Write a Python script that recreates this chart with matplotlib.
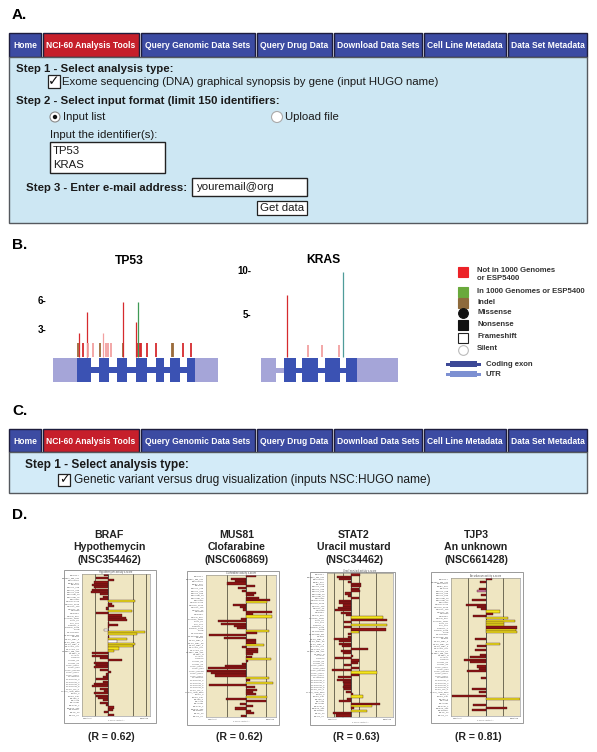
import matplotlib
matplotlib.use('Agg')
import matplotlib.pyplot as plt
from matplotlib.patches import Rectangle, Circle
import numpy as np

W, H = 597, 752
plt.rcParams['font.family'] = ['Liberation Sans', 'DejaVu Sans']
CONDENSED = ['DejaVu Sans Condensed', 'Liberation Sans']

# ---- navigation bar ----
tab_labels = ['Home', 'NCI-60 Analysis Tools', 'Query Genomic Data Sets', 'Query Drug Data',
              'Download Data Sets', 'Cell Line Metadata', 'Data Set Metadata']
tab_spans = [(9, 41), (43, 139), (141, 255), (257, 332), (334, 422), (424, 506), (508, 587)]

# ---- panel B: mutations (gene coordinate, count, class) ----
tp53_pos = [24.7, 26.3, 29.7, 34.3, 35.3, 40.3, 47.3, 50.3, 52.7, 55.3, 58.0, 69.7,
            70.3, 82.7, 84.0, 85.3, 87.0, 88.0, 93.7, 103.0, 118.7, 119.7, 130.3, 137.7]
tp53_count = [1.5, 2.5, 1.5, 4.8, 1.5, 1.5, 1.5, 2.6, 1.5, 1.5, 1.5, 1.5,
              5.8, 3.7, 1.5, 5.8, 1.5, 1.5, 1.5, 1.5, 1.5, 1.5, 1.5, 1.5]
tp53_class = ['I', 'N', 'N', 'N', 'S', 'S', 'I', 'S', 'S', 'S', 'S', 'I',
              'N', 'N', 'N', 'K', 'N', 'N', 'N', 'N', 'I', 'I', 'N', 'N']
tp53_utr = [(0, 24), (142, 165)]
tp53_exons = [(24, 38), (46, 56), (64, 74), (83, 94), (103, 111), (117, 127), (134, 142)]

kras_pos = [26.3, 47.3, 60.7, 78.0, 82.3]
kras_count = [7.1, 1.4, 1.4, 1.4, 9.8]
kras_class = ['N', 'S', 'S', 'S', 'T']
kras_utr = [(0, 15), (96, 137)]
kras_utr_line = [(15, 23)]
kras_exons = [(23, 35), (41, 57), (64, 79), (85, 96)]

mut_colors = {'N': '#d62a2e', 'S': '#f2a0a0', 'K': '#3f9a55', 'I': '#9b6b3a', 'T': '#4f9c9a'}

legend_labels = ['Not in 1000 Genomes\nor ESP5400', 'In 1000 Genomes or ESP5400', 'Indel',
                 'Missense', 'Nonsense', 'Frameshift', 'Silent']

# ---- panel D: pattern comparison bars (z-score per cell line) ----
cell_lines = ['BR:MCF7', 'BR:MDA_MB_231', 'BR:HS578T', 'BR:BT_549', 'BR:T47D',
              'CNS:SF_268', 'CNS:SF_295', 'CNS:SF_539', 'CNS:SNB_19', 'CNS:SNB_75', 'CNS:U251',
              'CO:COLO205', 'CO:HCC_2998', 'CO:HCT_116', 'CO:HCT_15', 'CO:HT29', 'CO:KM12', 'CO:SW_620',
              'LE:CCRF_CEM', 'LE:HL_60', 'LE:K_562', 'LE:MOLT_4', 'LE:RPMI_8226', 'LE:SR',
              'ME:LOXIMVI', 'ME:MALME_3M', 'ME:M14', 'ME:SK_MEL_2', 'ME:SK_MEL_28', 'ME:SK_MEL_5',
              'ME:UACC_257', 'ME:UACC_62', 'ME:MDA_MB_435', 'ME:MDA_N',
              'LC:A549', 'LC:EKVX', 'LC:HOP_62', 'LC:HOP_92', 'LC:NCI_H226', 'LC:NCI_H23',
              'LC:NCI_H322M', 'LC:NCI_H460', 'LC:NCI_H522',
              'OV:IGROV1', 'OV:OVCAR_3', 'OV:OVCAR_4', 'OV:OVCAR_5', 'OV:OVCAR_8', 'OV:SK_OV_3',
              'OV:NCI_ADR_RES', 'PR:PC_3', 'PR:DU_145',
              'RE:786_0', 'RE:A498', 'RE:ACHN', 'RE:CAKI_1', 'RE:RXF_393', 'RE:SN12C', 'RE:TK_10', 'RE:UO_31']

braf_vals = [-0.25, -0.9, 0.5, -1.1, -1.25, -1.1, -1.25, -1.3, -0.6, -0.4,
             -0.6, 2.1, 0.3, 0.5, -0.1, 1.9, -0.9, 1.1, 1.4, 1.5,
             0.1, 0.8, 0.1, -0.25, 2.9, 2.3, 0.1, 1.5, 0.75, 2.1,
             2.0, 0.9, 0.5, -1.25, -1.25, -0.6, 1.1, -1.1, -0.9, -1.1,
             -0.6, 0.25, -0.1, -0.4, -0.9, -0.4, -1.1, -1.25, -0.6, -0.25,
             -1.1, -0.9, -0.75, -0.4, -0.6, -0.1, 0.5, 0.4, -0.25, 0.5]
braf_cls = ('rrrrrrrrrrr' 'y' 'rrr' 'y' 'rrrrrrr' 'w' 'yy' 'r' 'y' 'w' 'yyyy'
            'rrrrrrrrrrrrrrrrrrrrrrrrrrr')

mus81_vals = [0.5, -0.8, -0.6, -1.0, 0.45, -0.45, -0.2, 0.5, 0.4, 0.65,
              1.2, 1.05, -0.7, -0.35, -0.15, 1.3, 0.35, 1.3, -0.3, -1.45,
              -1.3, -0.65, -0.5, 1.15, 0.55, -1.9, -1.15, 0.5, 0.5, 0.9,
              -0.2, 0.6, 0.6, 0.35, 0.3, 1.25, 0.1, -0.2, -1.1, -1.95,
              -2.0, -1.8, -1.6, 1.15, 0.2, 1.35, -1.9, 0.45, 0.55, 0.35,
              0.5, 1.05, -1.05, 1.0, -0.35, 0.35, -0.6, 0.25, 0.4, -0.3]
mus81_cls = ('rrrrrrrrrrr' 'y' 'rrrrr' 'y' 'rrrrr' 'y' 'rrrrr' 'y' 'rrrrr' 'y'
             'rrrrrrr' 'y' 'r' 'y' 'rrrrr' 'y' 'rrrrrrrr')

stat2_vals = [1.1, -1.7, -1.4, -0.4, 1.2, 1.2, 1.0, 1.1, -0.7, -0.3,
              1.0, -1.5, -1.4, -1.0, -1.6, -1.9, -1.2, -0.6, 3.9, 4.4,
              -0.8, 4.4, -0.8, 4.3, 1.0, -0.4, -0.3, -2.0, -1.5, -1.4,
              -1.1, 2.1, -1.2, -1.0, 0.2, -1.9, 1.0, 0.8, -0.8, 1.0,
              -2.3, 3.2, 1.0, -1.6, -1.7, -1.0, -0.8, -1.0, -0.8, -0.6,
              0.2, 1.5, -0.5, -1.5, 3.5, 2.6, 0.4, 1.9, -2.2, -1.8]
stat2_cls = ('rrrrrrrrrrrrrrrrrr' 'y' 'rr' 'y' 'rr' 'y' 'rrrrrrrrrrrrrrrr' 'y'
             'rrrrrrrrr' 'y' 'rrr' 'y' 'r' 'y' 'rr')

tjp3_vals = [0.4, -0.3, 0, 0, -0.4, -0.5, 0, -0.25, 0, -0.8,
             0, -1.15, -0.5, -0.25, 0.85, 0.45, -0.75, 1.3, 1.7, 1.05,
             1.1, 1.8, 1.75, 1.8, 0, 0, -0.6, 0, 0.85, -0.5,
             0, -0.6, 0, -0.3, -0.9, -1.25, -0.9, 0, -0.5, -0.4,
             -1.1, 0, 0, -0.25, 0, 0, 0, 0, -0.8, -0.4,
             0, -1.95, 2.0, 0, 0, -0.75, 1.25, -0.8, 0, 0]
tjp3_cls = ('rrrrr' 'p' 'rrrrrrrr' 'y' 'rr' 'yyyy' 'r' 'yy' 'rrrr' 'y'
            'rrrrrrrrrrrrrrrrrrrrrrr' 'y' 'rrrrrrr')

bar_colors = {'r': '#8e1414', 'y': '#f4e61c', 'w': '#ffffff', 'p': '#d07aa8'}

gene_titles = [('BRAF', 'Hypothemycin', '(NSC354462)'), ('MUS81', 'Clofarabine', '(NSC606869)'),
               ('STAT2', 'Uracil mustard', '(NSC34462)'), ('TJP3', 'An unknown', '(NSC661428)')]
r_values = [0.62, 0.62, 0.63, 0.81]

fig = plt.figure(figsize=(W / 100, H / 100), dpi=100)
bg = fig.add_axes([0, 0, 1, 1])
bg.set_xlim(0, W)
bg.set_ylim(H, 0)
bg.axis('off')
renderer = fig.canvas.get_renderer()


def sub_axes(x0, y0, x1, y1):
    return fig.add_axes([x0 / W, 1 - y1 / H, (x1 - x0) / W, (y1 - y0) / H])


def draw_nav(top, bottom):
    texts = []
    for lab, (x0, x1) in zip(tab_labels, tab_spans):
        col = '#c61f2b' if lab.startswith('NCI') else '#3c4ba2'
        bg.add_patch(Rectangle((x0, top), x1 - x0, bottom - top, fc=col, ec='#1d1d3d', lw=1.0))
        t = bg.text((x0 + x1) / 2, (top + bottom) / 2 + 0.5, lab, color='white', fontsize=8.2,
                    fontweight='bold', ha='center', va='center', family=CONDENSED)
        texts.append((t, x1 - x0 - 5))
    # shrink all tab labels by the same factor so the widest one fits
    scale = min(1.0, min(w / t.get_window_extent(renderer).width for t, w in texts))
    for t, _ in texts:
        t.set_fontsize(8.2 * scale)


def panel_letter(y, s):
    bg.text(12, y, s, fontsize=11, fontweight='bold', va='center', ha='left')


# ================= A =================
panel_letter(15, 'A.')
draw_nav(33, 57)
bg.add_patch(Rectangle((9, 57), 578, 166, fc='#cde7f3', ec='#55595e', lw=1.0))
bold = dict(fontsize=8.2, fontweight='bold', va='center', color='#1a1a1a')
reg = dict(fontsize=8.2, va='center', color='#1a1a1a')
bg.text(16, 69, 'Step 1 - Select analysis type:', **bold)
bg.add_patch(Rectangle((48, 75), 12, 13, fc='white', ec='#222', lw=0.9))
bg.text(54, 81.5, '\u2713', fontsize=10, ha='center', va='center', family=['DejaVu Sans'], color='#111')
bg.text(62, 82, 'Exome sequencing (DNA) graphical synopsis by gene (input HUGO name)', **reg)
bg.text(16, 101.5, 'Step 2 - Select input format (limit 150 identifiers:', **bold)
bg.add_patch(Circle((55, 117), 5, fc='white', ec='#8a8a8a', lw=0.8))
bg.add_patch(Circle((55, 117), 2.2, fc='#111', ec='none'))
bg.text(63, 117, 'Input list', **reg)
bg.add_patch(Circle((277, 117), 5.5, fc='white', ec='#aaaaaa', lw=0.8))
bg.text(285, 117, 'Upload file', **reg)
bg.text(50, 135, 'Input the identifier(s):', **reg)
bg.add_patch(Rectangle((50, 142), 115, 31, fc='white', ec='#222', lw=1.0))
bg.text(53, 151.5, 'TP53', **reg)
bg.text(53, 165, 'KRAS', **reg)
bg.text(26, 188, 'Step 3 - Enter e-mail address:', **bold)
bg.add_patch(Rectangle((192, 178), 115, 18, fc='white', ec='#222', lw=1.0))
bg.text(197, 187, 'youremail@org', **reg)
bg.add_patch(Rectangle((257, 201), 50, 14, fc='white', ec='#222', lw=0.9))
bg.text(282, 208, 'Get data', ha='center', fontsize=8.2, va='center', color='#1a1a1a')

# ================= B =================
panel_letter(245, 'B.')
bg.text(129, 261, 'TP53', fontsize=8.7, fontweight='bold', ha='center', va='center')
bg.text(323, 260, 'KRAS', fontsize=8.7, fontweight='bold', ha='center', va='center')

EXON = '#3b52b3'
UTR = '#a5a5d8'


def gene_panel(ax, pos, count, cls, utrs, utr_lines, exons, ytop, yticks, lo, hi):
    ax.set_facecolor('none')
    mid = (lo + hi) / 2
    for x0, x1 in utrs:
        ax.add_patch(Rectangle((x0, lo), x1 - x0, hi - lo, fc=UTR, ec='none'))
    for x0, x1 in utr_lines:
        ax.add_patch(Rectangle((x0, mid - 0.3), x1 - x0, 0.6, fc=UTR, ec='none'))
    # intron backbone between first and last exon
    ex0, ex1 = exons[0][0], exons[-1][1]
    ax.add_patch(Rectangle((ex0, mid - 0.3), ex1 - ex0, 0.6, fc=EXON, ec='none'))
    for x0, x1 in exons:
        ax.add_patch(Rectangle((x0, lo), x1 - x0, hi - lo, fc=EXON, ec='none'))
    cols = [mut_colors[c] for c in cls]
    widths = [1.3 if h < 2 else 0.9 for h in count]
    ax.vlines(pos, 0, count, colors=cols, linewidth=widths)
    ax.set_ylim(lo - 0.3, ytop)
    ax.set_yticks(yticks)
    ax.set_yticklabels([f'{t}-' for t in yticks], fontsize=7, fontweight='bold')
    ax.tick_params(axis='y', length=0, pad=1)
    ax.set_xticks([])
    for s in ax.spines.values():
        s.set_visible(False)


ax_tp = sub_axes(48, 280, 230, 385)
ax_tp.set_xlim(-5, 177)
gene_panel(ax_tp, tp53_pos, tp53_count, tp53_class, tp53_utr, [], tp53_exons,
           (357 - 280) / 9.5, [3, 6], -2.6, -0.1)

ax_kr = sub_axes(253, 262, 400, 385)
ax_kr.set_xlim(-8, 139)
gene_panel(ax_kr, kras_pos, kras_count, kras_class, kras_utr, kras_utr_line, kras_exons,
           (357 - 262) / 8.7, [5, 10], -2.85, -0.1)

# legend
leg_y = [272, 292, 302.5, 312.5, 324.5, 337.5, 349.5]
leg_style = [dict(marker='s', mfc='#ec2227', mec='#ec2227'),
             dict(marker='s', mfc='#6aa93c', mec='#6aa93c'),
             dict(marker='s', mfc='#8e6a3c', mec='#8e6a3c'),
             dict(marker='o', mfc='#111', mec='#111'),
             dict(marker='s', mfc='#111', mec='#111'),
             dict(marker='s', mfc='white', mec='#222'),
             dict(marker='o', mfc='white', mec='#bbbbbb')]
for y, lab, st in zip(leg_y, legend_labels, leg_style):
    bg.plot([463], [y], markersize=7, mew=0.8, linestyle='none', **st)
    bg.text(477, y - 0.5 if '\n' not in lab else y - 4.5, lab, fontsize=5.6, fontweight='bold',
            color='#333', va='center' if '\n' not in lab else 'top', linespacing=1.2)
bg.add_patch(Rectangle((450, 361), 27, 6, fc='#3c4896', ec='none'))
bg.add_patch(Rectangle((446, 362.5), 35, 3, fc='#3c4896', ec='none'))
bg.add_patch(Rectangle((450, 371), 27, 6, fc='#7d90d2', ec='none'))
bg.add_patch(Rectangle((446, 372.5), 35, 3, fc='#7d90d2', ec='none'))
bg.text(486, 364, 'Coding exon', fontsize=5.6, fontweight='bold', color='#333', va='center')
bg.text(486, 374.5, 'UTR', fontsize=5.6, fontweight='bold', color='#333', va='center')

# ================= C =================
panel_letter(411, 'C.')
draw_nav(429, 452)
bg.add_patch(Rectangle((9, 452), 578, 41, fc='#d3ebf8', ec='#55595e', lw=1.0))
bg.text(25, 465, 'Step 1 - Select analysis type:', fontsize=8.6, fontweight='bold', va='center', color='#1a1a1a')
bg.add_patch(Rectangle((58, 474), 12, 12, fc='white', ec='#222', lw=0.9))
bg.text(64, 480, '\u2713', fontsize=9, ha='center', va='center', family=['DejaVu Sans'], color='#111')
bg.text(74, 480, 'Genetic variant versus drug visualization (inputs NSC:HUGO name)', fontsize=8.6,
        va='center', color='#1a1a1a')

# ================= D =================
panel_letter(515, 'D.')
title_x = [109, 237, 354, 476]
for cx, lines, r in zip(title_x, gene_titles, r_values):
    for k, s in enumerate(lines):
        bg.text(cx, 535 + 12.5 * k, s, fontsize=7.6, fontweight='bold', ha='center', va='center', color='#222')
    bg.text(cx + 2, 737, f'(R = {r:.2f})', fontsize=7.6, fontweight='bold', ha='center', va='center', color='#222')

charts = [
    (braf_vals, braf_cls, 'Hypothemycin', (64, 570, 156, 723), (82, 574, 150, 716), (-2.0, 3.3), [-1, 0, 2, 3]),
    (mus81_vals, mus81_cls, 'Clofarabine', (187, 571, 279, 725), (206, 575, 276, 717), (-2.05, 1.5), [-1, 0, 1]),
    (stat2_vals, stat2_cls, 'Uracil mustard', (310, 572, 395, 725), (327, 573, 393, 717), (-2.9, 5.1), [-2, -1, 0, 1, 3]),
    (tjp3_vals, tjp3_cls, 'An unknown', (431, 572, 523, 723), (451, 578, 520, 716), (-2.0, 2.0), [-1, 0, 1]),
]
rows = np.arange(len(cell_lines))
for vals, cls, drug, panel, plot, xl, grid in charts:
    px0, py0, px1, py1 = panel
    bg.add_patch(Rectangle((px0, py0), px1 - px0, py1 - py0, fc='white', ec='#9a9a9a', lw=0.7))
    ax = sub_axes(*plot)
    ax.set_facecolor('#efe6c2')
    for g in grid:
        ax.axvline(g, color='#5b5744' if g else '#3a3a3a', lw=0.6, zorder=1)
    v = np.array(vals, dtype=float)
    keep = v != 0
    cols = [bar_colors[c] for c in cls]
    ax.barh(rows[keep], v[keep], height=0.9, color=np.array(cols)[keep], edgecolor='#3b1010',
            linewidth=0.25, zorder=2)
    ax.set_xlim(*xl)
    ax.set_ylim(len(cell_lines) - 0.4, -0.6)
    ax.set_yticks(rows)
    ax.set_yticklabels(cell_lines, fontsize=1.6, color='#555')
    ax.tick_params(axis='y', length=0, pad=1.5)
    ax.set_xticks(grid)
    ax.set_xticklabels([])
    ax.tick_params(axis='x', length=1, width=0.3, color='#777')
    for s in ax.spines.values():
        s.set_linewidth(0.4)
        s.set_color('#8a8a8a')
    ax.set_title(f'{drug} activity z-score', fontsize=1.8, color='#555', pad=1)
    ax.text(0.02, -0.012, 'Resistant', transform=ax.transAxes, fontsize=1.6, color='#555', va='top')
    ax.text(0.98, -0.012, 'Sensitive', transform=ax.transAxes, fontsize=1.6, color='#555', va='top', ha='right')
    ax.text(0.5, -0.03, 'z-score (activity)', transform=ax.transAxes, fontsize=1.6, color='#777',
            va='top', ha='center')

fig.savefig('out.png', dpi=100)
